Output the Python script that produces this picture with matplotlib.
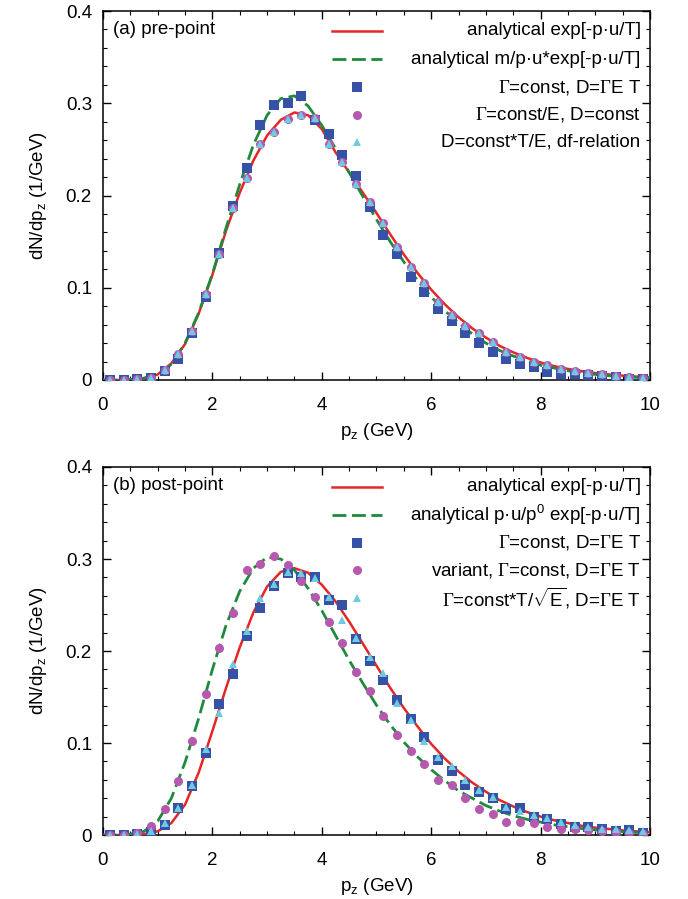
"""
Momentum distributions dN/dp_z for pre-point and post-point schemes.
"""

import numpy as np
import matplotlib
matplotlib.use('Agg')
import matplotlib.pyplot as plt

plt.rcParams['font.family'] = ['Liberation Sans', 'DejaVu Sans']
plt.rcParams['mathtext.fontset'] = 'custom'
plt.rcParams['mathtext.rm'] = 'Liberation Serif'
plt.rcParams['mathtext.sf'] = 'Liberation Sans'
plt.rcParams['mathtext.it'] = 'Liberation Sans:italic'
plt.rcParams['mathtext.bf'] = 'Liberation Sans:bold'
plt.rcParams['font.size'] = 13.5

# sample points (markers)
pz_pts = [0.125 + 0.25 * k for k in range(40)]

# (a) pre-point
a_sq = [0, 0, 0.001, 0.002, 0.010, 0.023, 0.051, 0.090, 0.138, 0.189,
        0.230, 0.276, 0.298, 0.300, 0.308, 0.282, 0.267, 0.244, 0.221, 0.188,
        0.157, 0.137, 0.112, 0.095, 0.077, 0.064, 0.051, 0.040, 0.030, 0.023,
        0.017, 0.014, 0.009, 0.007, 0.006, 0.005, 0.004, 0.003, 0.0015, 0.001]
a_ci = [0, 0, 0.001, 0.002, 0.011, 0.028, 0.053, 0.093, 0.137, 0.186,
        0.219, 0.256, 0.269, 0.283, 0.287, 0.284, 0.256, 0.236, 0.213, 0.193,
        0.170, 0.144, 0.122, 0.105, 0.085, 0.070, 0.058, 0.051, 0.041, 0.030,
        0.025, 0.019, 0.016, 0.012, 0.010, 0.008, 0.0065, 0.004, 0.0035, 0.002]
a_tr = [0, 0, 0.001, 0.002, 0.011, 0.028, 0.053, 0.093, 0.137, 0.186,
        0.219, 0.256, 0.269, 0.283, 0.287, 0.284, 0.256, 0.236, 0.213, 0.193,
        0.170, 0.144, 0.122, 0.105, 0.085, 0.070, 0.058, 0.051, 0.041, 0.030,
        0.025, 0.019, 0.016, 0.012, 0.010, 0.008, 0.0065, 0.004, 0.0035, 0.002]

# (b) post-point
b_sq = [0, 0, 0.001, 0.003, 0.011, 0.029, 0.053, 0.089, 0.142, 0.175,
        0.216, 0.247, 0.271, 0.285, 0.280, 0.280, 0.255, 0.250, 0.213, 0.189,
        0.169, 0.147, 0.126, 0.107, 0.082, 0.070, 0.054, 0.047, 0.040, 0.028,
        0.029, 0.020, 0.017, 0.012, 0.009, 0.009, 0.007, 0.004, 0.005, 0.0025]
b_ci = [0, 0, 0.002, 0.010, 0.028, 0.059, 0.102, 0.153, 0.203, 0.241,
        0.288, 0.295, 0.303, 0.294, 0.276, 0.259, 0.231, 0.209, 0.177, 0.157,
        0.129, 0.109, 0.091, 0.077, 0.060, 0.054, 0.040, 0.028, 0.023, 0.014,
        0.014, 0.013, 0.009, 0.007, 0.006, 0.005, 0.004, 0.003, 0.002, 0.001]
b_tr = [0, 0, 0.001, 0.004, 0.013, 0.029, 0.054, 0.094, 0.133, 0.186,
        0.222, 0.258, 0.273, 0.286, 0.285, 0.279, 0.259, 0.234, 0.214, 0.193,
        0.176, 0.143, 0.125, 0.102, 0.085, 0.075, 0.060, 0.049, 0.041, 0.030,
        0.026, 0.022, 0.019, 0.014, 0.011, 0.009, 0.007, 0.006, 0.005, 0.004]

pz_line = [0.25 * k for k in range(41)]
a_red = [0, 0, 0.0005, 0.002, 0.006, 0.018, 0.039, 0.072, 0.114, 0.162,
         0.203, 0.238, 0.265, 0.282, 0.290, 0.287, 0.272, 0.247, 0.225, 0.203,
         0.181, 0.158, 0.136, 0.116, 0.098, 0.082, 0.068, 0.056, 0.046, 0.037,
         0.030, 0.024, 0.019, 0.015, 0.012, 0.0095, 0.0075, 0.006, 0.0047, 0.0037, 0.003]
a_green = [0, 0, 0.0005, 0.002, 0.006, 0.017, 0.040, 0.073, 0.115, 0.165,
           0.212, 0.255, 0.287, 0.305, 0.308, 0.297, 0.276, 0.251, 0.225, 0.199,
           0.174, 0.150, 0.128, 0.108, 0.090, 0.075, 0.062, 0.050, 0.040, 0.032,
           0.026, 0.021, 0.016, 0.013, 0.010, 0.008, 0.006, 0.0047, 0.0037, 0.0029, 0.0022]
b_red = [0, 0, 0.0003, 0.001, 0.004, 0.013, 0.033, 0.068, 0.113, 0.160,
         0.204, 0.242, 0.270, 0.286, 0.290, 0.285, 0.272, 0.254, 0.232, 0.208,
         0.184, 0.160, 0.138, 0.118, 0.099, 0.083, 0.069, 0.057, 0.047, 0.038,
         0.031, 0.025, 0.020, 0.016, 0.013, 0.010, 0.008, 0.0065, 0.005, 0.004, 0.003]
b_green = [0, 0, 0.001, 0.004, 0.015, 0.040, 0.079, 0.127, 0.180, 0.228,
           0.265, 0.290, 0.302, 0.300, 0.288, 0.268, 0.244, 0.217, 0.190, 0.165,
           0.141, 0.120, 0.101, 0.085, 0.071, 0.059, 0.048, 0.040, 0.032, 0.026,
           0.021, 0.017, 0.014, 0.011, 0.009, 0.007, 0.0055, 0.0045, 0.0035, 0.0028, 0.0022]

labels_a = ['analytical exp[-p·u/T]',
            'analytical m/p·u*exp[-p·u/T]',
            r'$\Gamma$=const, D=$\Gamma$E T',
            r'$\Gamma$=const/E, D=const',
            'D=const*T/E, df-relation']
labels_b = ['analytical exp[-p·u/T]',
            r'analytical p·u/p$^{\mathsf{0}}$ exp[-p·u/T]',
            r'$\Gamma$=const, D=$\Gamma$E T',
            r'variant, $\Gamma$=const, D=$\Gamma$E T',
            r'$\Gamma$=const*T/$\sqrt{\mathsf{E}}$, D=$\Gamma$E T']

c_red = '#e62626'
c_green = '#1e8a3c'
c_sq = '#3652a6'
c_ci = '#b658ad'
c_tr = '#6ecae0'


def panel(ax, red, green, sq, ci, tr, labels, tag):
    ax.plot(pz_line, red, '-', color=c_red, lw=1.8, zorder=3)
    ax.plot(pz_line, green, '--', color=c_green, lw=2.0, dashes=(5, 2), zorder=3)
    ax.plot(pz_pts, sq, 's', color=c_sq, ms=7, mew=0, zorder=4)
    ax.plot(pz_pts, ci, 'o', color=c_ci, ms=6.5, mew=0, zorder=5)
    ax.plot(pz_pts, tr, '^', color=c_tr, ms=6, mew=0, zorder=6)

    # gnuplot-style key: sample on the left, text right-justified
    rows = [0.946, 0.869, 0.794, 0.719, 0.644]
    ax.plot([0.419, 0.51], [rows[0]] * 2, '-', color=c_red, lw=1.8,
            transform=ax.transAxes)
    ax.plot([0.419, 0.51], [rows[1]] * 2, '--', color=c_green, lw=2.0,
            dashes=(5, 2), transform=ax.transAxes)
    ax.plot([0.464], [rows[2]], 's', color=c_sq, ms=7, mew=0, transform=ax.transAxes)
    ax.plot([0.464], [rows[3]], 'o', color=c_ci, ms=6.5, mew=0, transform=ax.transAxes)
    ax.plot([0.464], [rows[4]], '^', color=c_tr, ms=6, mew=0, transform=ax.transAxes)
    for y, lab in zip(rows, labels):
        ax.text(0.983, y, lab, ha='right', va='center', fontsize=13.5,
                transform=ax.transAxes)
    ax.text(0.018, 0.95, tag, ha='left', va='center', fontsize=13.5,
            transform=ax.transAxes)

    ax.set_xlim(0, 10)
    ax.set_ylim(0, 0.4)
    ax.set_xticks([0, 2, 4, 6, 8, 10])
    ax.set_xticks(np.arange(0, 10.01, 0.5), minor=True)
    ax.set_yticks([0, 0.1, 0.2, 0.3, 0.4])
    ax.set_yticklabels(['0', '0.1', '0.2', '0.3', '0.4'])
    ax.set_yticks(np.arange(0, 0.401, 0.02), minor=True)
    ax.tick_params(which='both', direction='in', top=True, right=True,
                   labelsize=13.5)
    ax.tick_params(axis='x', which='both', pad=12)
    ax.tick_params(axis='y', which='both', pad=8)
    ax.tick_params(which='major', length=6, width=1)
    ax.tick_params(which='minor', length=3, width=0.8)
    ax.set_xlabel(r'p$_{\mathsf{z}}$ (GeV)', fontsize=13.5, labelpad=5)
    ax.set_ylabel(r'dN/dp$_{\mathsf{z}}$ (1/GeV)', fontsize=13.5, labelpad=12)
    for s in ax.spines.values():
        s.set_linewidth(1.1)


fig = plt.figure(figsize=(6.88, 8.99), dpi=100)
W, H = 688, 899
ax1 = fig.add_axes([103 / W, 1 - 380 / H, 547 / W, 369 / H])
ax2 = fig.add_axes([103 / W, 1 - 835 / H, 547 / W, 368 / H])

panel(ax1, a_red, a_green, a_sq, a_ci, a_tr, labels_a, '(a) pre-point')
panel(ax2, b_red, b_green, b_sq, b_ci, b_tr, labels_b, '(b) post-point')

plt.savefig('out.png', dpi=100)
